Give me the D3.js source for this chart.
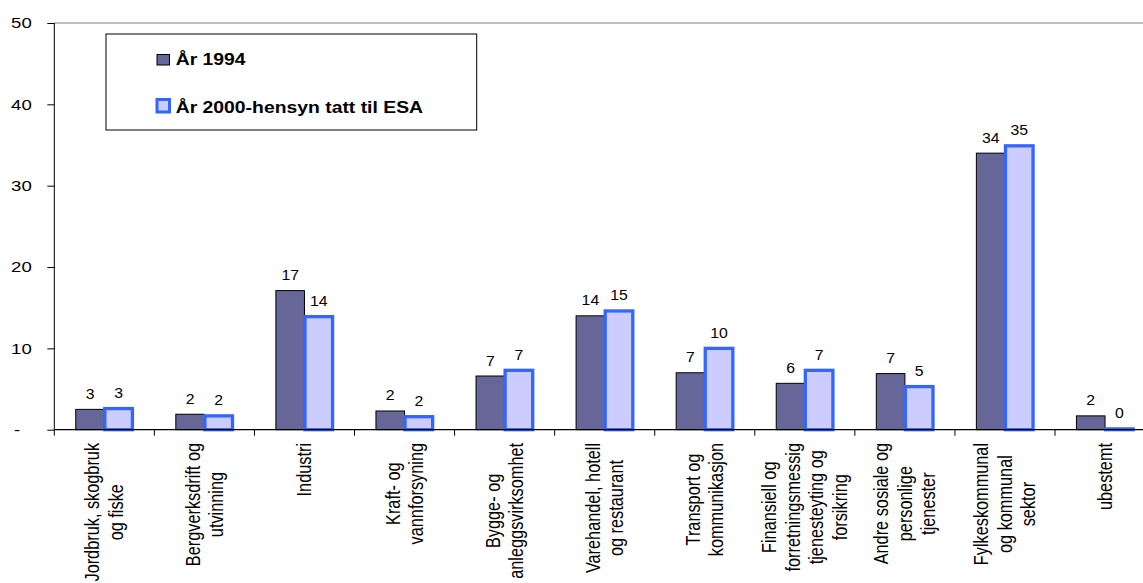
<!DOCTYPE html>
<html>
<head>
<meta charset="utf-8">
<script src="https://cdn.jsdelivr.net/npm/d3@7/dist/d3.min.js"></script>
<style>
  html, body { margin: 0; padding: 0; background: #ffffff; }
  svg { display: block; font-family: "Liberation Sans", Arial, sans-serif; }
</style>
</head>
<body>
<svg id="chart" width="1143" height="583"></svg>
<script>
// Sectors (label lines) and the two series, in percent
const categories = [
  ["Jordbruk, skogbruk", "og fiske"],
  ["Bergverksdrift og", "utvinning"],
  ["Industri"],
  ["Kraft- og", "vannforsyning"],
  ["Bygge- og", "anleggsvirksomhet"],
  ["Varehandel, hotell", "og restaurant"],
  ["Transport og", "kommunikasjon"],
  ["Finansiell og", "forretningsmessig", "tjenesteyting og", "forsikring"],
  ["Andre sosiale og", "personlige", "tjenester"],
  ["Fylkeskommunal", "og kommunal", "sektor"],
  ["ubestemt"]
];
const seriesNames = ["År 1994", "År 2000-hensyn tatt til ESA"];
const values1994 = [2.5, 1.9, 17.1, 2.3, 6.6, 14.0, 7.0, 5.7, 6.9, 34.0, 1.7];
const values2000 = [2.6, 1.7, 13.9, 1.6, 7.3, 14.6, 10.0, 7.3, 5.3, 34.9, 0.1];
const yTicks = [0, 10, 20, 30, 40, 50];

const W = 1143, H = 583;
const left = 54.3, bottomY = 429.7, topY = 23;
const SX = 1.2; // horizontal text stretch

const svg = d3.select("#chart");
svg.append("rect").attr("width", W).attr("height", H).attr("fill", "#fff");

const catKeys = categories.map(d => d.join(" "));
const x = d3.scaleBand().domain(catKeys).range([left, left + 11 * 100.07]).paddingInner(0).paddingOuter(0);
const xs = d3.scaleBand().domain([0, 1]).range([0, x.bandwidth()]).paddingInner(0).paddingOuter(0.75);
const y = d3.scaleLinear().domain([0, 50]).range([bottomY, topY]);

const rows = catKeys.map((k, i) => ({ key: k, lines: categories[i], v: [values1994[i], values2000[i]] }));

// top boundary line at 50
svg.append("line")
  .attr("x1", left).attr("x2", W)
  .attr("y1", y(50)).attr("y2", y(50))
  .attr("stroke", "#808080").attr("stroke-width", 1);

// bars
const g = svg.append("g");
const groups = g.selectAll("g.cat").data(rows).join("g").attr("class", "cat")
  .attr("transform", d => `translate(${x(d.key)},0)`);

groups.append("rect")
  .attr("x", xs(0)).attr("width", xs.bandwidth())
  .attr("y", d => y(d.v[0])).attr("height", d => y(0) - y(d.v[0]))
  .attr("fill", "#666699").attr("stroke", "#000").attr("stroke-width", 1);

groups.append("rect")
  .attr("x", xs(1) + 0.5).attr("width", xs.bandwidth() - 1)
  .attr("y", d => y(d.v[1])).attr("height", d => y(0) - y(d.v[1]))
  .attr("fill", "#CCCCFF").attr("stroke", "#3366FF").attr("stroke-width", 3.3);

// value labels
const fmt = d3.format(".0f");
[0, 1].forEach(s => {
  groups.append("text")
    .attr("transform", d => `translate(${xs(s) + xs.bandwidth() / 2},${y(d.v[s]) - 10.5}) scale(1.13,1)`)
    .attr("text-anchor", "middle")
    .attr("font-size", 14)
    .attr("fill", "#000")
    .text(d => fmt(d.v[s]));
});

// y axis
const yAxis = d3.axisLeft(y).tickValues(yTicks).tickSize(7).tickPadding(0)
  .tickFormat(d => d === 0 ? "-" : d);
const yg = svg.append("g").attr("transform", `translate(${left},0)`).call(yAxis);
yg.select(".domain").attr("stroke", "#000").attr("d", `M0,${y(50)}V${y(0)}`);
yg.selectAll(".tick line").attr("stroke", "#000");
yg.selectAll(".tick text")
  .attr("x", null).attr("dy", null)
  .attr("font-size", 15.5).attr("font-family", "Liberation Sans, Arial, sans-serif")
  .attr("fill", "#000")
  .attr("dominant-baseline", "central")
  .attr("transform", d => `translate(${d === 0 ? -34 : -22.5},0) scale(${SX},1)`);

// x axis line and category separators
svg.append("line").attr("x1", left).attr("x2", W).attr("y1", y(0)).attr("y2", y(0))
  .attr("stroke", "#000").attr("stroke-width", 1.2);
svg.append("g").selectAll("line").data(catKeys).join("line")
  .attr("x1", d => x(d)).attr("x2", d => x(d))
  .attr("y1", y(0)).attr("y2", y(0) + 6)
  .attr("stroke", "#000");

// rotated category labels
const lineGap = 23.5, labelTop = 443;
rows.forEach(r => {
  const cx = x(r.key) + x.bandwidth() / 2;
  const n = r.lines.length;
  const lg = svg.append("g");
  const texts = r.lines.map((t, i) => lg.append("text")
    .attr("text-anchor", "middle")
    .attr("font-size", 16.3)
    .attr("dy", "0.35em")
    .attr("fill", "#000")
    .text(t));
  const L = d3.max(texts, t => t.node().getComputedTextLength());
  texts.forEach((t, i) => {
    const colX = cx + (i - (n - 1) / 2) * lineGap;
    t.attr("transform", `translate(${colX},${labelTop + L / 2}) scale(${SX},1) rotate(-90)`);
  });
});

// legend
const lgd = svg.append("g");
lgd.append("rect").attr("x", 106).attr("y", 34).attr("width", 370.7).attr("height", 96)
  .attr("fill", "#fff").attr("stroke", "#000").attr("stroke-width", 1);
lgd.append("rect").attr("x", 157).attr("y", 54.5).attr("width", 12.5).attr("height", 10.5)
  .attr("fill", "#666699").attr("stroke", "#000").attr("stroke-width", 1);
lgd.append("rect").attr("x", 157).attr("y", 99.5).attr("width", 12.5).attr("height", 12.5)
  .attr("fill", "#CCCCFF").attr("stroke", "#3366FF").attr("stroke-width", 3);
lgd.selectAll("text.lg").data(seriesNames).join("text").attr("class", "lg")
  .attr("transform", (d, i) => `translate(175.7,${i === 0 ? 65 : 113}) scale(1.21,1)`)
  .attr("font-size", 16).attr("font-weight", "bold").attr("fill", "#000")
  .text(d => d);
</script>
</body>
</html>
